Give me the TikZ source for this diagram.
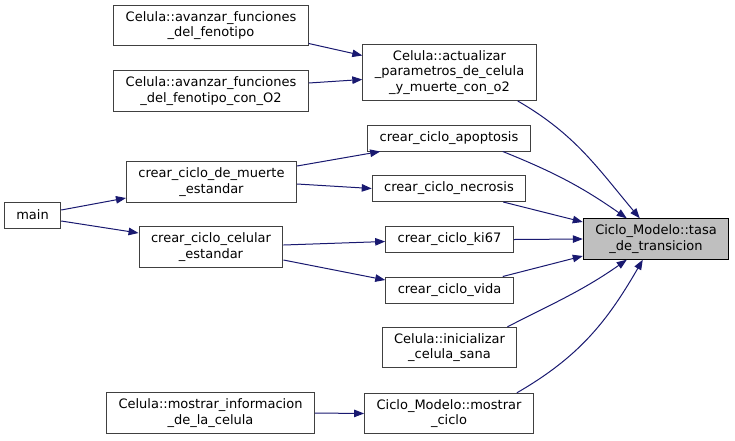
\documentclass[tikz,border=0pt]{standalone}
\usepackage{fontspec}
\setmainfont{DejaVu Sans}
\usetikzlibrary{arrows.meta}
\definecolor{edgeblue}{HTML}{191970}
\definecolor{boxgrey}{HTML}{404040}
\begin{document}
\begin{tikzpicture}[x=1pt,y=-1pt,
		func/.style={draw=boxgrey,line width=1pt,fill=white,align=center,inner xsep=12pt,inner ysep=6pt,minimum height=26pt,font=\fontsize{13}{15.5}\selectfont},
		call/.style={edgeblue,line width=1pt,-{Triangle[length=10pt,width=7.5pt]}}]
		\useasboundingbox (0,0) rectangle (735,440);
		
		\node [func] (fen) at (211,25.5) {Celula::avanzar\_funciones \\ \_del\_fenotipo};
		\node [func] (fenO) at (211,91) {Celula::avanzar\_funciones \\ \_del\_fenotipo\_con\_O2};
		\node [func] (act) at (449.5,72.5) {Celula::actualizar \\ \_parametros\_de\_celula \\ \_y\_muerte\_con\_o2};
		\node [func] (apop) at (449,138) {crear\_ciclo\_apoptosis};
		\node [func] (necr) at (449,188.5) {crear\_ciclo\_necrosis};
		\node [func] (ki) at (449.5,239.5) {crear\_ciclo\_ki67};
		\node [func] (vida) at (449.5,290) {crear\_ciclo\_vida};
		\node [func] (inic) at (449.5,347.5) {Celula::inicializar \\ \_celula\_sana};
		\node [func] (most) at (449,413.5) {Ciclo\_Modelo::mostrar \\ \_ciclo};
		\node [func] (info) at (210.5,413) {Celula::mostrar\_informacion \\ \_de\_la\_celula};
		\node [func] (main) at (32.5,215) {main};
		\node [func] (muer) at (211.5,182) {crear\_ciclo\_de\_muerte \\ \_estandar};
		\node [func] (celu) at (211,247) {crear\_ciclo\_celular \\ \_estandar};
		\node [func,draw=black,fill=black!25] (tasa) at (656,239) {Ciclo\_Modelo::tasa \\ \_de\_transicion};
		
		\draw [call] ([yshift=-18pt]fen.east) -- ([yshift=17pt]act.west);
		\draw [call] ([yshift=8pt]fenO.east) -- ([yshift=-7pt]act.west);
		\draw [call] ([yshift=5pt]main.east) -- ([yshift=-16pt]muer.west);
		\draw [call] ([yshift=-6pt]main.east) -- ([yshift=14pt]celu.west);
		\draw [call] ([yshift=16pt]muer.east) -- ([xshift=13pt]apop.south west);
		\draw [call] ([yshift=-2pt]muer.east) -- (necr.west);
		\draw [call] ([yshift=2pt]celu.east) -- ([yshift=-2pt]ki.west);
		\draw [call] ([yshift=-13pt]celu.east) -- ([yshift=10pt]vida.west);
		\draw [call] (info.east) -- (most.west);
		
		\draw [call] ([xshift=-19pt]act.south east) to[out=-30,in=130] ([xshift=57pt]tasa.north west);
		\draw [call] ([xshift=-28pt]apop.south east) to[out=-22,in=145] ([xshift=44pt]tasa.north west);
		\draw [call] ([xshift=-23pt]necr.south east) -- ([yshift=17pt]tasa.west);
		\draw [call] (ki.east) -- (tasa.west);
		\draw [call] ([xshift=-11pt]vida.north east) -- ([yshift=-17pt]tasa.west);
		\draw [call] ([xshift=-10pt]inic.north east) to[out=27,in=-145] ([xshift=44pt]tasa.south west);
		\draw [call] ([xshift=-17pt]most.north east) to[out=30,in=-120] ([xshift=60pt]tasa.south west);
	\end{tikzpicture}
\end{document}
